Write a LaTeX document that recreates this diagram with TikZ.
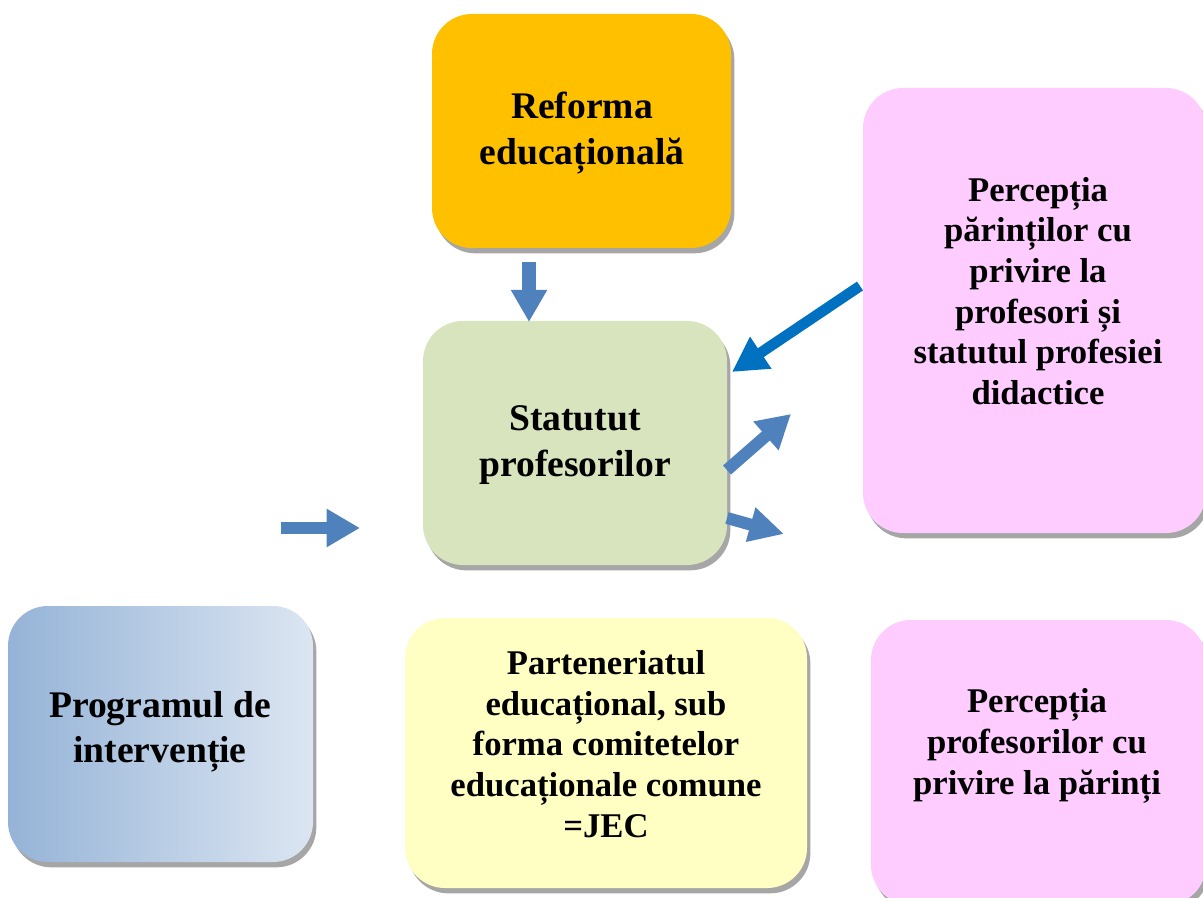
\documentclass[tikz,border=0pt]{standalone}
\usepackage{fontspec}
\setmainfont{Liberation Serif}
\usetikzlibrary{arrows.meta,shadows,calc}
\definecolor{orangebox}{HTML}{FFC000}
\definecolor{greenbox}{HTML}{D7E4BD}
\definecolor{pinkbox}{HTML}{FFCCFF}
\definecolor{yellowbox}{HTML}{FFFFC4}
\definecolor{gradleft}{HTML}{95B3D7}
\definecolor{gradright}{HTML}{DCE6F2}
\definecolor{arrowblue}{HTML}{4F81BD}
\definecolor{darkblue}{HTML}{0070C0}
\definecolor{shadowgray}{HTML}{A6A6A6}
\begin{document}
\begin{tikzpicture}[x=0.75pt,y=-0.75pt,
  box/.style={rectangle, rounded corners=30pt, draw=none, inner sep=0pt,
    drop shadow={shadow xshift=2.5pt, shadow yshift=-4pt, fill=shadowgray, opacity=1}},
  txt/.style={align=center, font=\fontsize{26}{30.5}\selectfont\bfseries, inner sep=0pt},
  bigtxt/.style={align=center, font=\fontsize{28.2}{34}\selectfont\bfseries, inner sep=0pt},
  barrow/.style={draw=arrowblue, line width=9pt, -{Triangle[length=25pt, width=27pt, fill=arrowblue]}},
  darrow/.style={draw=darkblue, line width=8pt, -{Triangle[length=26pt, width=27pt, fill=darkblue]}}
]
\useasboundingbox (0,0) rectangle (1203,898);

% boxes
\node[box, fill=orangebox, minimum width=224.25pt, minimum height=175.5pt] (reforma) at (581.5,131) {};
\node[box, fill=greenbox, minimum width=228pt, minimum height=183pt] (statut) at (575,443) {};
\node[box, fill=pinkbox, minimum width=257.25pt, minimum height=333.75pt] (parinti) at (1034.5,310.5) {};
\node[box, left color=gradleft, right color=gradright, minimum width=228.75pt, minimum height=192pt] (program) at (160.5,734) {};
\node[box, fill=yellowbox, minimum width=301.5pt, minimum height=202.5pt] (parten) at (606,753) {};
\node[box, fill=pinkbox, minimum width=251.25pt, minimum height=213.75pt] (profes) at (1038.5,762.5) {};

% texts
\node[bigtxt] (treforma) at (582,133) {Reforma\\educațională};
\node[bigtxt] (tstatut) at (575,445) {Statutut\\profesorilor};
\node[txt] (tparinti) at (1038,291) {Percepția\\părinților cu\\privire la\\profesori și\\statutul profesiei\\didactice};
\node[bigtxt] (tprogram) at (160,732) {Programul de\\intervenție};
\node[txt] (tparten) at (606,744) {Parteneriatul\\educațional, sub\\forma comitetelor\\educaționale comune\\=JEC};
\node[txt] (tprofes) at (1037,746) {Percepția\\profesorilor cu\\privire la părinți};

% arrow end points
\coordinate (d1) at (529,262);
\coordinate (d2) at (529,322);
\coordinate (l1) at (281,528);
\coordinate (l2) at (360,528);
\coordinate (b1) at (860,286);
\coordinate (b2) at (732,372);
\coordinate (u1) at (727,470);
\coordinate (u2) at (791,414);
\coordinate (r1) at (727,518);
\coordinate (r2) at (784,534);

\draw[barrow, line width=10.5pt, -{Triangle[length=24pt, width=25.5pt, fill=arrowblue]}] (d1) -- (d2);
\draw[barrow] (l1) -- (l2);
\draw[darrow] (b1) -- (b2);
\draw[barrow] (u1) -- (u2);
\draw[barrow, -{Triangle[length=26pt, width=25pt, fill=arrowblue]}] (r1) -- (r2);
\end{tikzpicture}
\end{document}
